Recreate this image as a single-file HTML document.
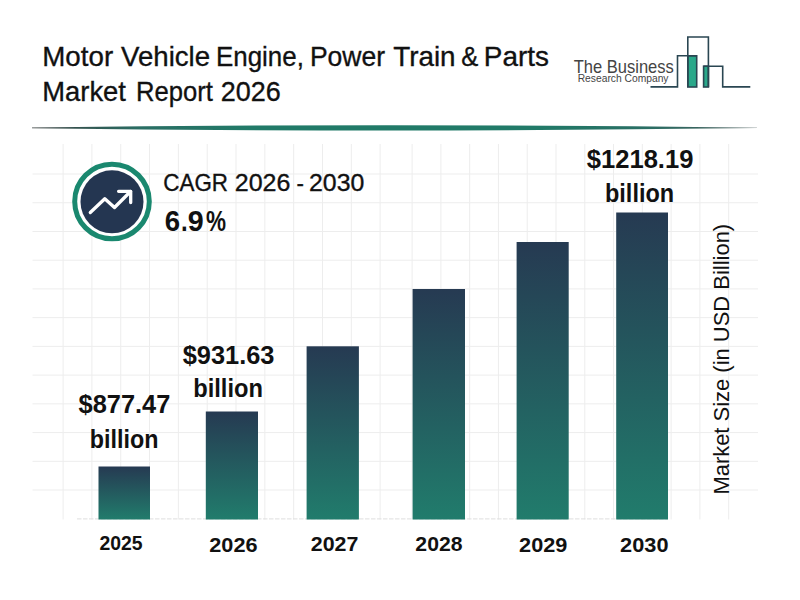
<!DOCTYPE html>
<html>
<head>
<meta charset="utf-8">
<style>
html,body{margin:0;padding:0;background:#fff;width:800px;height:600px;overflow:hidden;}
svg{display:block;}
text{font-family:"Liberation Sans", sans-serif;fill:#111;}
text.r{stroke:#111;stroke-width:0.35px;}
</style>
</head>
<body>
<svg width="800" height="600" viewBox="0 0 800 600">
<defs>
  <linearGradient id="bar" x1="0" y1="0" x2="0" y2="1">
    <stop offset="0" stop-color="#263a52"/>
    <stop offset="1" stop-color="#217c6c"/>
  </linearGradient>
  <linearGradient id="hl" x1="0" y1="0" x2="1" y2="0">
    <stop offset="0" stop-color="#3a4040"/>
    <stop offset="0.15" stop-color="#2a6e64"/>
    <stop offset="0.3" stop-color="#217a68"/>
    <stop offset="0.7" stop-color="#217a68"/>
    <stop offset="0.85" stop-color="#2a6e64"/>
    <stop offset="1" stop-color="#4a5a5a"/>
  </linearGradient>
</defs>
<rect width="800" height="600" fill="#fff"/>

<g stroke="#ededed" stroke-width="1">
<line x1="63.10" y1="144" x2="63.10" y2="519.5"/>
<line x1="91.92" y1="144" x2="91.92" y2="519.5"/>
<line x1="120.74" y1="144" x2="120.74" y2="519.5"/>
<line x1="149.56" y1="144" x2="149.56" y2="519.5"/>
<line x1="178.38" y1="144" x2="178.38" y2="519.5"/>
<line x1="207.20" y1="144" x2="207.20" y2="519.5"/>
<line x1="236.02" y1="144" x2="236.02" y2="519.5"/>
<line x1="264.84" y1="144" x2="264.84" y2="519.5"/>
<line x1="293.66" y1="144" x2="293.66" y2="519.5"/>
<line x1="322.48" y1="144" x2="322.48" y2="519.5"/>
<line x1="351.30" y1="144" x2="351.30" y2="519.5"/>
<line x1="380.12" y1="144" x2="380.12" y2="519.5"/>
<line x1="412.10" y1="144" x2="412.10" y2="519.5"/>
<line x1="440.88" y1="144" x2="440.88" y2="519.5"/>
<line x1="469.66" y1="144" x2="469.66" y2="519.5"/>
<line x1="498.44" y1="144" x2="498.44" y2="519.5"/>
<line x1="527.22" y1="144" x2="527.22" y2="519.5"/>
<line x1="556.00" y1="144" x2="556.00" y2="519.5"/>
<line x1="584.78" y1="144" x2="584.78" y2="519.5"/>
<line x1="613.56" y1="144" x2="613.56" y2="519.5"/>
<line x1="642.34" y1="144" x2="642.34" y2="519.5"/>
<line x1="671.12" y1="144" x2="671.12" y2="519.5"/>
<line x1="699.90" y1="144" x2="699.90" y2="519.5"/>
<line x1="728.68" y1="144" x2="728.68" y2="519.5"/>
<line x1="32.5" y1="174.00" x2="758" y2="174.00"/>
<line x1="32.5" y1="202.73" x2="758" y2="202.73"/>
<line x1="32.5" y1="231.46" x2="758" y2="231.46"/>
<line x1="32.5" y1="260.19" x2="758" y2="260.19"/>
<line x1="32.5" y1="288.92" x2="758" y2="288.92"/>
<line x1="32.5" y1="317.65" x2="758" y2="317.65"/>
<line x1="32.5" y1="346.38" x2="758" y2="346.38"/>
<line x1="32.5" y1="375.11" x2="758" y2="375.11"/>
<line x1="32.5" y1="403.84" x2="758" y2="403.84"/>
<line x1="32.5" y1="432.57" x2="758" y2="432.57"/>
<line x1="32.5" y1="461.30" x2="758" y2="461.30"/>
<line x1="32.5" y1="490.03" x2="758" y2="490.03"/>
</g>
<line x1="77" y1="518.9" x2="668" y2="518.9" stroke="#dedede" stroke-width="1" stroke-dasharray="4.5,1.5"/>

<rect x="687.8" y="55.8" width="8.9" height="31.2" fill="#2aa88a" stroke="#2a4652" stroke-width="1.6"/>
<rect x="703.6" y="66.2" width="4.8" height="20.8" fill="#2aa88a" stroke="#2a4652" stroke-width="1.6"/>
<path d="M650.5,86.9 H677.5 V55.8 H696.7 M687.8,87 V37 H708.4 V87 M703.6,66.2 H722.7 V86.9 H750.3" fill="none" stroke="#2a4652" stroke-width="1.6"/>

<path d="M32,127.6 Q394.5,122.9 757,127.8 L757,128.1 Q394.5,132.8 32,128.3 Z" fill="url(#hl)"/>

<circle cx="112" cy="201.5" r="38" fill="#fff"/>
<circle cx="112" cy="201.5" r="37.3" fill="none" stroke="#1a886f" stroke-width="5.0"/>
<circle cx="112" cy="201.8" r="31.5" fill="#243651"/>
<polyline points="90.3,212.5 104.8,198.8 114.5,207.5 130.5,191.5" fill="none" stroke="#fff" stroke-width="3.3" stroke-linecap="round" stroke-linejoin="round"/>
<polyline points="118.6,191.3 130.7,191.3 130.7,202.5" fill="none" stroke="#fff" stroke-width="3.3" stroke-linecap="round" stroke-linejoin="round"/>

<rect x="98.5" y="466.5" width="51.50" height="53.00" fill="url(#bar)"/>
<rect x="205.8" y="411.5" width="52.20" height="108.00" fill="url(#bar)"/>
<rect x="306.6" y="346.3" width="52.30" height="173.20" fill="url(#bar)"/>
<rect x="412.6" y="289" width="52.40" height="230.50" fill="url(#bar)"/>
<rect x="516.6" y="242" width="52.10" height="277.50" fill="url(#bar)"/>
<rect x="616.2" y="212.5" width="51.80" height="307.00" fill="url(#bar)"/>
<text class="r" x="42.23" y="65.6" font-size="28" font-weight="400" textLength="70.90" lengthAdjust="spacingAndGlyphs">Motor</text>
<text class="r" x="121.00" y="65.6" font-size="28" font-weight="400" textLength="89.12" lengthAdjust="spacingAndGlyphs">Vehicle</text>
<text class="r" x="215.97" y="65.6" font-size="28" font-weight="400" textLength="87.96" lengthAdjust="spacingAndGlyphs">Engine,</text>
<text class="r" x="309.93" y="65.6" font-size="28" font-weight="400" textLength="75.20" lengthAdjust="spacingAndGlyphs">Power</text>
<text class="r" x="393.16" y="65.6" font-size="28" font-weight="400" textLength="62.40" lengthAdjust="spacingAndGlyphs">Train</text>
<text class="r" x="461.20" y="65.6" font-size="28" font-weight="400" textLength="17.07" lengthAdjust="spacingAndGlyphs">&amp;</text>
<text class="r" x="483.82" y="65.6" font-size="28" font-weight="400" textLength="65.05" lengthAdjust="spacingAndGlyphs">Parts</text>
<text class="r" x="42.26" y="100.6" font-size="28" font-weight="400" textLength="83.64" lengthAdjust="spacingAndGlyphs">Market</text>
<text class="r" x="136.00" y="100.6" font-size="28" font-weight="400" textLength="76.91" lengthAdjust="spacingAndGlyphs">Report</text>
<text class="r" x="220.73" y="100.6" font-size="28" font-weight="400" textLength="60.06" lengthAdjust="spacingAndGlyphs">2026</text>
<text class="r" x="163.35" y="191.2" font-size="24.3" font-weight="400" textLength="64.68" lengthAdjust="spacingAndGlyphs">CAGR</text>
<text class="r" x="234.73" y="191.2" font-size="24.3" font-weight="400" textLength="55.64" lengthAdjust="spacingAndGlyphs">2026</text>
<text class="r" x="296.41" y="191.2" font-size="24.3" font-weight="400" textLength="7.40" lengthAdjust="spacingAndGlyphs">-</text>
<text class="r" x="309.04" y="191.2" font-size="24.3" font-weight="400" textLength="55.28" lengthAdjust="spacingAndGlyphs">2030</text>
<text x="164.74" y="231.25" font-size="29" font-weight="700" textLength="15.35" lengthAdjust="spacingAndGlyphs">6</text>
<text x="181.00" y="231.25" font-size="29" font-weight="700" textLength="6.67" lengthAdjust="spacingAndGlyphs">.</text>
<text x="187.85" y="231.25" font-size="29" font-weight="700" textLength="15.96" lengthAdjust="spacingAndGlyphs">9</text>
<text x="205.90" y="231.25" font-size="29" font-weight="700" textLength="20.02" lengthAdjust="spacingAndGlyphs">%</text>
<text x="78.50" y="413.2" font-size="25.8" font-weight="700" textLength="91.83" lengthAdjust="spacingAndGlyphs">$877.47</text>
<text x="89.84" y="447.6" font-size="25.2" font-weight="700" textLength="68.58" lengthAdjust="spacingAndGlyphs">billion</text>
<text x="182.75" y="363.5" font-size="25.8" font-weight="700" textLength="91.68" lengthAdjust="spacingAndGlyphs">$931.63</text>
<text x="193.27" y="397.25" font-size="25.2" font-weight="700" textLength="69.67" lengthAdjust="spacingAndGlyphs">billion</text>
<text x="586.75" y="168.2" font-size="25.8" font-weight="700" textLength="106.69" lengthAdjust="spacingAndGlyphs">$1218.19</text>
<text x="605.03" y="202" font-size="25.2" font-weight="700" textLength="69.10" lengthAdjust="spacingAndGlyphs">billion</text>
<text x="99.49" y="549.9" font-size="19.7" font-weight="700" textLength="43.19" lengthAdjust="spacingAndGlyphs">2025</text>
<text x="209.32" y="551.5" font-size="21" font-weight="700" textLength="48.22" lengthAdjust="spacingAndGlyphs">2026</text>
<text x="310.73" y="551" font-size="21" font-weight="700" textLength="47.64" lengthAdjust="spacingAndGlyphs">2027</text>
<text x="415.34" y="551" font-size="21" font-weight="700" textLength="47.19" lengthAdjust="spacingAndGlyphs">2028</text>
<text x="519.12" y="551.5" font-size="21" font-weight="700" textLength="48.22" lengthAdjust="spacingAndGlyphs">2029</text>
<text x="620.12" y="552.2" font-size="21" font-weight="700" textLength="48.36" lengthAdjust="spacingAndGlyphs">2030</text>
<text x="573.74" y="72.5" font-size="18.5" font-weight="400" textLength="100.07" lengthAdjust="spacingAndGlyphs" style="fill:#444">The Business</text>
<text x="577.70" y="82.25" font-size="10.3" font-weight="400" textLength="90.80" lengthAdjust="spacingAndGlyphs" style="fill:#444">Research Company</text>
<text transform="translate(728.75,492.9) rotate(-90)" x="-1.71" y="0" font-size="22.2" textLength="270.75" lengthAdjust="spacingAndGlyphs">Market Size (in USD Billion)</text>
</svg>
</body>
</html>
